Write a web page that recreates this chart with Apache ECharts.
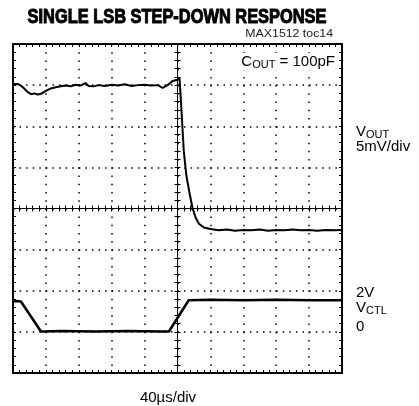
<!DOCTYPE html>
<html><head><meta charset="utf-8">
<script src="https://cdn.jsdelivr.net/npm/echarts@6/dist/echarts.min.js"></script>
<style>html,body{margin:0;padding:0;background:#fff}#c{width:419px;height:406px}</style>
</head><body><div id="c"></div>
<script>
// time in µs (40 µs/div), trace levels in screen divisions (0 = bottom, 8 = top)
const voutTime = [0,6,12,18,22,26,30,34,40,46,52,58,64,70,76,82,88,92,98,104,112,120,128,136,144,152,160,168,176,182,188,194,200,202.4,203.6,204.8,207.6,210.8,214.4,218,222,226,232,240,250,260,270,280,290,300,310,320,330,340,350,360,370,380,390,400];
const voutDiv  = [7.02,7.03,6.95,6.83,6.78,6.80,6.77,6.79,6.86,6.92,6.95,6.97,6.99,6.97,7.01,6.99,7.05,6.98,6.97,7.00,6.98,7.01,6.99,7.02,6.98,7.00,7.01,6.99,7.00,6.93,7.00,7.10,7.13,7.18,6.8,6.4,5.4,4.8,4.4,4.03,3.78,3.63,3.54,3.50,3.47,3.49,3.46,3.48,3.47,3.49,3.46,3.48,3.47,3.49,3.47,3.48,3.46,3.48,3.47,3.48];
const vctlTime = [0,4,9.6,34,60,100,140,180,189.6,213.6,240,280,320,360,400];
const vctlDiv  = [1.74,1.75,1.74,1.01,1.02,1.01,1.02,1.01,1.01,1.77,1.78,1.77,1.78,1.77,1.77];
const titleText = 'SINGLE LSB STEP-DOWN RESPONSE';
const noteText = 'MAX1512 toc14';
const xLabel = '40\u00b5s/div';

const SANS = "'Liberation Sans',Arial,sans-serif";
const G = {left:13, top:44, width:329, height:329};
const frameLine = {show:true, onZero:false, lineStyle:{color:'#000', width:2}};
const tick = {show:true, inside:true, length:3, lineStyle:{color:'#000', width:1}};
const minor = {show:true, splitNumber:5, length:3, lineStyle:{color:'#000', width:1}};
const off = {show:false};
function xa(gi, pos, extra){ return Object.assign({gridIndex:gi, type:'value', position:pos, min:0, max:400, interval:40, axisLabel:off, splitLine:off}, extra); }
function ya(gi, pos, extra){ return Object.assign({gridIndex:gi, type:'value', position:pos, min:0, max:8, interval:1, axisLabel:off, splitLine:off}, extra); }
const crossLine = {show:true, onZero:true, lineStyle:{color:'#000', width:1}};
const big = {fontFamily:SANS, fontSize:15, fill:'#000', verticalAlign:'bottom'};
const sub = {fontFamily:SANS, fontSize:11, fill:'#000', verticalAlign:'bottom', padding:[0,0,-1,0]};

const chart = echarts.init(document.getElementById('c'), null, {renderer:'canvas'});
chart.setOption({
  animation:false,
  backgroundColor:'#fff',
  grid:[G,G,G,G].map(g=>Object.assign({}, g)),
  xAxis:[
    xa(0,'bottom',{axisLine:frameLine, axisTick:tick, minorTick:minor,
       splitLine:{show:true, lineStyle:{color:'#000', width:1.5, type:[1.5,6.72]}}}),
    xa(1,'top',{axisLine:frameLine, axisTick:tick, minorTick:minor}),
    xa(2,'bottom',{min:-200,max:200, axisLine:crossLine, axisTick:tick, minorTick:minor}),
    xa(3,'bottom',{min:-200,max:200, axisLine:crossLine, axisTick:Object.assign({},tick,{inside:false}), minorTick:minor})
  ],
  yAxis:[
    ya(0,'left',{axisLine:frameLine, axisTick:tick, minorTick:minor,
       splitLine:{show:true, lineStyle:{color:'#000', width:1.5, type:[1.5,5.08]}}}),
    ya(1,'right',{axisLine:frameLine, axisTick:tick, minorTick:minor}),
    ya(2,'left',{min:-4,max:4, axisLine:crossLine, axisTick:tick, minorTick:minor}),
    ya(3,'left',{min:-4,max:4, axisLine:crossLine, axisTick:Object.assign({},tick,{inside:false}), minorTick:minor})
  ],
  series:[
    {type:'line', xAxisIndex:0, yAxisIndex:0, data:voutTime.map((t,i)=>[t,voutDiv[i]]),
     showSymbol:false, lineStyle:{color:'#000', width:2}, z:5},
    {type:'line', xAxisIndex:0, yAxisIndex:0, data:vctlTime.map((t,i)=>[t,vctlDiv[i]]),
     showSymbol:false, lineStyle:{color:'#000', width:2.5}, z:5}
  ],
  graphic:[
    {type:'text', x:177, y:7, scaleX:0.82, style:{text:titleText, fontFamily:SANS, fontWeight:'bold', fontSize:20, fill:'#000', stroke:'#000', lineWidth:1, align:'center', verticalAlign:'top'}},
    {type:'text', x:333, y:28, scaleX:1.12, style:{text:noteText, fontFamily:SANS, fontSize:11, fill:'#222', align:'right', verticalAlign:'top'}},
    {type:'text', x:336, y:53, z:100, style:{text:'{b|C}{s|OUT}{b| = 100pF}', align:'right', verticalAlign:'top', fill:'#000', backgroundColor:'#fff', padding:[1,1,1,2], rich:{b:big, s:sub}}},
    {type:'text', x:356, y:124, style:{text:'{b|V}{s|OUT}', fill:'#000', verticalAlign:'top', rich:{b:big, s:sub}}},
    {type:'text', x:356, y:139, style:{text:'5mV/div', fontFamily:SANS, fontSize:15, fill:'#000', verticalAlign:'top'}},
    {type:'text', x:356, y:285, style:{text:'2V', fontFamily:SANS, fontSize:15, fill:'#000', verticalAlign:'top'}},
    {type:'text', x:356, y:300, style:{text:'{b|V}{s|CTL}', fill:'#000', verticalAlign:'top', rich:{b:big, s:sub}}},
    {type:'text', x:356, y:319, style:{text:'0', fontFamily:SANS, fontSize:15, fill:'#000', verticalAlign:'top'}},
    {type:'text', x:168, y:390, style:{text:xLabel, fontFamily:SANS, fontSize:15, fill:'#000', align:'center', verticalAlign:'top'}}
  ]
});
</script></body></html>
